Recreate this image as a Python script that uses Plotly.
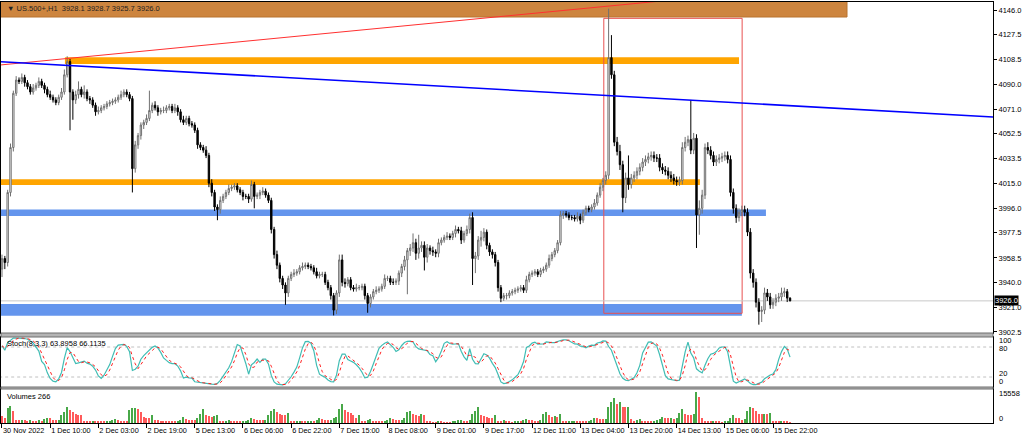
import numpy as np
import pandas as pd
import plotly.graph_objects as go

# --- US.500+ H1, 30 Nov 2022 .. 16 Dec 2022 ---
first_open = 3950
closes = [
    3958, 3955, 4008, 4042, 4083, 4093, 4092, 4095, 4091, 4088,
    4084, 4087, 4089, 4092, 4089, 4086, 4082, 4080, 4078, 4076,
    4080, 4084, 4097, 4107, 4084, 4078, 4082, 4086, 4082, 4084,
    4079, 4078, 4074, 4069, 4070, 4072, 4073, 4075, 4076, 4077,
    4078, 4080, 4082, 4084, 4082, 4079, 4026, 4044, 4051, 4059,
    4061, 4064, 4070, 4074, 4072, 4069, 4070, 4070, 4072, 4073,
    4070, 4072, 4069, 4063, 4061, 4064, 4060, 4059, 4055, 4044,
    4042, 4040, 4036, 4015, 4008, 3997, 3995, 4002, 4005, 4008,
    4011, 4012, 4013, 4010, 4008, 4005, 4005, 4003, 4014, 4005,
    4006, 4008, 4009, 4006, 4002, 3980, 3961, 3953, 3943, 3938,
    3932, 3943, 3946, 3947, 3948, 3951, 3952, 3953, 3952, 3951,
    3948, 3945, 3946, 3946, 3940, 3936, 3930, 3919, 3932, 3957,
    3940, 3939, 3942, 3936, 3935, 3936, 3936, 3937, 3930, 3924,
    3929, 3933, 3934, 3935, 3937, 3943, 3943, 3940, 3940, 3941,
    3947, 3952, 3957, 3964, 3966, 3970, 3962, 3966, 3968, 3959,
    3966, 3964, 3963, 3962, 3970, 3972, 3974, 3975, 3974, 3977,
    3980, 3979, 3972, 3977, 3980, 3989, 3958, 3960, 3972, 3974,
    3978, 3968, 3963, 3961, 3955, 3936, 3928, 3930, 3930, 3932,
    3933, 3934, 3935, 3936, 3934, 3942, 3946, 3947, 3948, 3946,
    3949, 3950, 3953, 3958, 3961, 3964, 3970, 3991, 3992, 3991,
    3989, 3989, 3988, 3990, 3987, 3993, 3996, 3995, 3997, 4000,
    4006, 4012, 4017, 4021, 4110, 4097, 4046, 4039, 4029, 4004,
    4019, 4014, 4019, 4021, 4024, 4027, 4031, 4033, 4035, 4036,
    4034, 4034, 4027, 4025, 4024, 4021, 4019, 4017, 4016, 4017,
    4042, 4046, 4048, 4040, 4049, 3991, 3996, 4006, 4042, 4040,
    4036, 4031, 4033, 4034, 4035, 4036, 4033, 4008, 3996, 3989,
    3993, 3995, 3993, 3978, 3947, 3940, 3925, 3918, 3919, 3932,
    3929, 3923, 3925, 3928, 3929, 3932, 3933, 3928.1, 3926.0,
]
# wick length above / below the candle body, in points
up_wick = [
    3, 2, 2, 3, 2, 3, 2, 3, 2, 2,
    2, 3, 2, 3, 2, 2, 2, 3, 2, 2,
    2, 3, 4, 4, 2, 2, 3, 6, 2, 5,
    2, 2, 2, 2, 3, 2, 2, 2, 2, 2,
    2, 2, 3, 2, 2, 2, 2, 3, 2, 2,
    2, 3, 15, 2, 3, 2, 2, 3, 2, 2,
    2, 3, 2, 2, 3, 2, 2, 2, 2, 2,
    2, 2, 3, 2, 3, 2, 2, 3, 2, 2,
    3, 2, 2, 2, 2, 2, 2, 2, 3, 2,
    2, 2, 3, 2, 2, 2, 2, 3, 2, 2,
    2, 2, 2, 3, 2, 2, 3, 2, 2, 2,
    2, 3, 2, 2, 2, 2, 2, 2, 2, 4,
    4, 3, 2, 2, 2, 3, 2, 2, 2, 2,
    2, 2, 3, 2, 2, 3, 2, 2, 3, 2,
    2, 2, 3, 2, 3, 7, 3, 10, 3, 3,
    3, 2, 3, 2, 3, 2, 2, 3, 2, 2,
    3, 2, 3, 2, 3, 3, 4, 3, 3, 5,
    3, 2, 2, 2, 2, 2, 2, 2, 2, 2,
    2, 2, 2, 2, 2, 3, 2, 2, 2, 2,
    2, 2, 2, 3, 2, 2, 2, 3, 2, 2,
    2, 2, 2, 3, 2, 2, 2, 2, 2, 3,
    2, 3, 2, 3, 37, 17, 3, 4, 5, 3,
    4, 17, 3, 3, 3, 3, 3, 3, 3, 3,
    3, 3, 3, 3, 3, 3, 3, 3, 3, 3,
    4, 4, 3, 30, 4, 3, 6, 4, 3, 4,
    3, 3, 3, 3, 3, 3, 3, 3, 3, 3,
    3, 3, 3, 3, 3, 3, 3, 3, 3, 4,
    3, 3, 3, 3, 3, 4, 3, 2, 0.6,
]
dn_wick = [
    6, 5, 3, 3, 3, 2, 2, 2, 3, 2,
    2, 2, 2, 2, 2, 3, 2, 2, 2, 2,
    2, 2, 2, 2, 29, 15, 3, 3, 2, 3,
    2, 3, 2, 3, 2, 2, 2, 2, 2, 2,
    2, 2, 2, 2, 2, 2, 18, 3, 3, 3,
    3, 2, 2, 2, 2, 3, 2, 2, 2, 2,
    2, 2, 3, 2, 2, 2, 2, 2, 2, 3,
    2, 2, 2, 3, 3, 3, 8, 3, 2, 2,
    2, 2, 2, 2, 2, 3, 2, 3, 2, 9,
    2, 3, 2, 2, 2, 3, 3, 3, 3, 3,
    9, 3, 2, 2, 2, 2, 2, 2, 2, 2,
    2, 2, 2, 2, 2, 2, 3, 4, 3, 3,
    3, 3, 2, 2, 2, 2, 2, 2, 3, 7,
    3, 2, 2, 2, 2, 2, 2, 2, 2, 2,
    3, 3, 3, 26, 4, 3, 5, 4, 3, 10,
    4, 3, 3, 3, 3, 2, 2, 2, 2, 2,
    3, 2, 3, 2, 2, 3, 20, 11, 3, 5,
    3, 3, 3, 3, 3, 3, 3, 2, 3, 2,
    2, 2, 2, 2, 2, 2, 2, 2, 2, 2,
    2, 2, 2, 2, 2, 2, 2, 2, 3, 2,
    2, 2, 2, 2, 3, 2, 2, 2, 2, 2,
    2, 2, 3, 3, 3, 3, 3, 3, 4, 11,
    4, 4, 3, 3, 3, 3, 3, 3, 3, 3,
    3, 3, 3, 3, 3, 3, 3, 3, 3, 3,
    3, 3, 3, 3, 3, 25, 15, 4, 3, 3,
    3, 3, 3, 3, 3, 3, 3, 3, 4, 4,
    3, 3, 3, 3, 4, 4, 4, 10, 8, 3,
    3, 3, 3, 3, 3, 3, 3, 3, 0.3,
]
volumes = [
    3564, 2754, 7452, 8748, 5832, 1458, 1296, 1458, 1296, 1134,
    1296, 972, 648, 1458, 1134, 1944, 2754, 2268, 1620, 1296,
    1620, 3888, 5508, 7938, 6480, 5508, 4698, 4212, 3888, 972,
    970, 960, 1134, 1100, 972, 648, 640, 810, 972, 1296,
    2106, 1620, 1134, 1100, 972, 6318, 7452, 7776, 7128, 5508,
    3240, 2592, 2430, 4212, 1458, 1296, 1134, 972, 810, 648,
    640, 630, 972, 1620, 2916, 1782, 1620, 1458, 1400, 2592,
    4536, 6804, 3888, 3402, 2916, 3402, 3888, 972, 810, 1134,
    1296, 1134, 972, 950, 810, 972, 1134, 1458, 2268, 1782,
    1620, 1296, 1280, 1620, 3888, 5832, 6804, 5508, 4536, 4212,
    3888, 4860, 972, 810, 972, 1134, 810, 648, 810, 972,
    810, 1620, 2754, 1944, 1620, 1296, 1620, 2592, 3240, 7128,
    9558, 6318, 5508, 4860, 4212, 2592, 3888, 972, 648, 1296,
    1944, 1134, 972, 810, 648, 810, 1620, 2430, 1782, 1620,
    1580, 1620, 2592, 5346, 5832, 4536, 3888, 3402, 4698, 4212,
    972, 648, 486, 480, 972, 648, 324, 320, 310, 648,
    972, 1458, 1620, 1134, 972, 1296, 4698, 6156, 8262, 4212,
    3402, 2916, 2592, 2268, 3888, 1134, 1100, 1458, 972, 648,
    486, 648, 810, 800, 1296, 1782, 1458, 1296, 1134, 1100,
    1296, 4698, 5508, 3888, 2916, 3564, 3078, 4374, 972, 648,
    810, 972, 1134, 810, 800, 648, 640, 972, 1296, 2430,
    2268, 2106, 1782, 1944, 7938, 10692, 12312, 9396, 10692, 8262,
    7938, 8262, 1944, 972, 1620, 1782, 972, 810, 648, 640,
    972, 1458, 1944, 3078, 2754, 2268, 2300, 2106, 2592, 5184,
    7128, 4536, 4212, 4100, 4374, 15558, 13122, 2592, 972, 648,
    640, 810, 648, 640, 486, 810, 972, 2268, 4212, 2592,
    2268, 1620, 1944, 5832, 7938, 7776, 5994, 4536, 4374, 4536,
    4374, 4860, 1134, 972, 810, 972, 810, 648, 266,
]
assert len(closes) == len(up_wick) == len(dn_wick) == len(volumes)

tick_idx = list(range(0, 273, 17))
tick_text = ['30 Nov 2022', '1 Dec 10:00', '2 Dec 03:00', '2 Dec 19:00', '5 Dec 13:00',
             '6 Dec 06:00', '6 Dec 22:00', '7 Dec 15:00', '8 Dec 08:00', '9 Dec 01:00',
             '9 Dec 17:00', '12 Dec 11:00', '13 Dec 04:00', '13 Dec 20:00', '14 Dec 13:00',
             '15 Dec 06:00', '15 Dec 22:00']
price_ticks = [4146.0, 4127.5, 4108.5, 4090.0, 4071.0, 4052.5, 4033.5, 4015.0,
               3996.0, 3977.5, 3958.5, 3940.0, 3921.0, 3902.5]
last_price = 3926.0

# drawn objects: zones (bar from, bar to, price low, price high)
zone_from = [22.2, -1.0, -1.0, -1.0]
zone_to = [260.0, 246.2, 269.5, 261.0]
zone_lo = [4105.2, 4013.6, 3990.2, 3914.8]
zone_hi = [4110.2, 4017.9, 3995.2, 3923.6]
zone_col = ['#FFA500', '#FFA500', '#6495ED', '#6495ED']
# box around the CPI / FOMC swing
box_bars = [212.3, 261.1]
box_prices = [3916.6, 4139.7]
# trend lines (bar, price) pairs
red_line = [(-0.7, 4104.4), (228.6, 4152.0)]
blue_line = [(-0.35, 4106.9), (349.6, 4065.1)]

# --- derived series ---
n = len(closes)
idx = np.arange(n)
opens = [first_open] + closes[:-1]
highs = [max(o, c) + u for o, c, u in zip(opens, closes, up_wick)]
lows = [min(o, c) - d for o, c, d in zip(opens, closes, dn_wick)]

s = pd.DataFrame({'h': highs, 'l': lows, 'c': closes})
ll = s['l'].rolling(8, min_periods=1).min()
hh = s['h'].rolling(8, min_periods=1).max()
stoch_main = 100 * (s['c'] - ll).rolling(3, min_periods=1).sum() / (hh - ll).rolling(3, min_periods=1).sum()
stoch_sig = stoch_main.rolling(3, min_periods=1).mean()

vol_col = ['#FF5A5A'] + ['#48A848' if volumes[i] > volumes[i - 1] else '#FF5A5A' for i in range(1, n)]

# --- page geometry (pixels) ---
W, H = 1024, 440
L, R, T, B = 1, 31, 2, 17
plot_w, plot_h = W - L - R, H - T - B
bottom = H - B


def py(ypx):
    return (bottom - ypx) / plot_h


def px(xpx):
    return (xpx - L) / plot_w


x_range = [-0.35, 349.6]
FONT = 'Liberation Sans'

fig = go.Figure()

fig.add_trace(go.Candlestick(
    x=idx, open=opens, high=highs, low=lows, close=closes,
    increasing=dict(line=dict(color='#707070', width=1), fillcolor='#ffffff'),
    decreasing=dict(line=dict(color='#000000', width=1), fillcolor='#000000'),
    whiskerwidth=0, showlegend=False, hoverinfo='skip', xaxis='x', yaxis='y'))

fig.add_trace(go.Scatter(x=idx, y=stoch_main, mode='lines', line=dict(color='#40BDB4', width=1.2),
                         showlegend=False, hoverinfo='skip', xaxis='x2', yaxis='y2'))
fig.add_trace(go.Scatter(x=idx, y=stoch_sig, mode='lines', line=dict(color='#FF2020', width=1, dash='dot'),
                         showlegend=False, hoverinfo='skip', xaxis='x2', yaxis='y2'))

fig.add_trace(go.Bar(x=idx, y=volumes, marker=dict(color=vol_col, line=dict(width=0)), width=0.45,
                     showlegend=False, hoverinfo='skip', xaxis='x3', yaxis='y3'))

shapes = []
# header strip (chart object behind the title)
shapes.append(dict(type='rect', xref='x', yref='y', x0=-1, x1=298.1, y0=4140.7, y1=4160,
                   fillcolor='#CD853F', line=dict(color='#B8732F', width=1), layer='below'))
for x0, x1, lo, hi, col in zip(zone_from, zone_to, zone_lo, zone_hi, zone_col):
    shapes.append(dict(type='rect', xref='x', yref='y', x0=x0, x1=x1, y0=lo, y1=hi,
                       fillcolor=col, line=dict(width=0), layer='below'))
shapes.append(dict(type='rect', xref='x', yref='y', x0=box_bars[0], x1=box_bars[1],
                   y0=box_prices[0], y1=box_prices[1], line=dict(color='#E85050', width=1), layer='below'))
shapes.append(dict(type='line', xref='x', yref='y', x0=-1, x1=350, y0=last_price, y1=last_price,
                   line=dict(color='#C8C8C8', width=1), layer='below'))
(rx0, ry0), (rx1, ry1) = red_line
slope = (ry1 - ry0) / (rx1 - rx0)
shapes.append(dict(type='line', xref='x', yref='y', x0=rx0, y0=ry0, x1=350, y1=ry0 + slope * (350 - rx0),
                   line=dict(color='#FF3030', width=1)))
(bx0, by0), (bx1, by1) = blue_line
shapes.append(dict(type='line', xref='x', yref='y', x0=bx0, y0=by0, x1=bx1, y1=by1,
                   line=dict(color='#0000FF', width=1.6)))
# stochastic levels
for lvl in (80, 20):
    shapes.append(dict(type='line', xref='x2', yref='y2', x0=-1, x1=350, y0=lvl, y1=lvl,
                       line=dict(color='#C0C0C0', width=1, dash='dot'), layer='below'))
# panel separators
for y0, y1 in ((333, 337), (387, 389)):
    shapes.append(dict(type='rect', xref='paper', yref='paper', x0=0, x1=1, y0=py(y1), y1=py(y0),
                       fillcolor='#B4B4B4', line=dict(color='#6E6E6E', width=1)))

ann_font = dict(family=FONT, size=7.5, color='#000000')
annotations = [
    dict(text='▼ US.500+,H1  3928.1 3928.7 3925.7 3926.0', x=px(5), y=py(8.5), xref='paper', yref='paper',
         xanchor='left', yanchor='middle', showarrow=False, font=dict(family=FONT, size=7.5, color='#222222')),
    dict(text='Stoch(8,3,3) 63.8958 66.1135', x=px(5), y=py(343.5), xref='paper', yref='paper',
         xanchor='left', yanchor='middle', showarrow=False, font=ann_font),
    dict(text='Volumes 266', x=px(5), y=py(396), xref='paper', yref='paper',
         xanchor='left', yanchor='middle', showarrow=False, font=ann_font),
    dict(text='3926.0', x=1, y=last_price, xref='paper', yref='y', xanchor='left', yanchor='middle',
         xshift=1, showarrow=False, bgcolor='#000000', borderpad=0,
         font=dict(family=FONT, size=7.5, color='#FFFFFF')),
]
for txt, ypix in (('100', 340.5), ('80', 348.5), ('20', 373.5), ('0', 381.5), ('15558', 393.3), ('0', 418.3)):
    annotations.append(dict(text=txt, x=1, y=py(ypix), xref='paper', yref='paper', xanchor='left',
                            yanchor='middle', xshift=4, showarrow=False, font=ann_font))

frame = dict(showline=True, mirror=True, linecolor='#000000', linewidth=1, showgrid=False, zeroline=False,
             fixedrange=True, automargin=False)

fig.update_layout(
    width=W, height=H,
    margin=dict(l=L, r=R, t=T, b=B, pad=0, autoexpand=False),
    paper_bgcolor='#FFFFFF', plot_bgcolor='#FFFFFF',
    showlegend=False, bargap=0, hovermode=False,
    font=dict(family=FONT, size=7.5, color='#000000'),
    shapes=shapes, annotations=annotations,
    xaxis=dict(domain=[0, 1], anchor='y', range=x_range, showticklabels=False, ticks='',
               rangeslider=dict(visible=False), **frame),
    yaxis=dict(domain=[py(333), py(2)], anchor='x', range=[3901.7, 4152.05], side='right',
               tickvals=price_ticks, ticktext=['%.1f' % v for v in price_ticks], ticks='outside',
               ticklen=3, tickcolor='#000000', tickfont=dict(family=FONT, size=7.5), **frame),
    xaxis2=dict(domain=[0, 1], anchor='y2', range=x_range, showticklabels=False, ticks='', **frame),
    yaxis2=dict(domain=[py(387), py(337)], anchor='x2', range=[0, 100], side='right',
                showticklabels=False, ticks='', **frame),
    xaxis3=dict(domain=[0, 1], anchor='y3', range=x_range, tickvals=tick_idx, ticktext=tick_text,
                ticks='outside', ticklen=4, tickcolor='#000000', ticklabelposition='outside right',
                tickangle=0, tickfont=dict(family=FONT, size=7.3), **frame),
    yaxis3=dict(domain=[0, py(389)], anchor='x3', range=[0, 15558 * 34 / 31], side='right',
                showticklabels=False, ticks='', **frame),
)

# page without the default body margin so the chart sits at the window's top-left corner
fig.write_html('out.html', config={'displayModeBar': False},
               post_script="document.body.style.margin='0';document.body.style.padding='0';")
